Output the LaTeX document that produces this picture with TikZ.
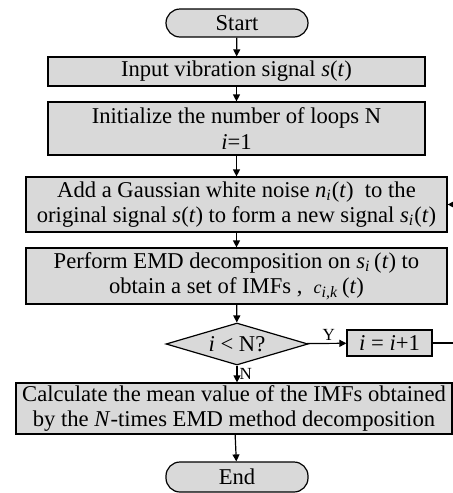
\documentclass[tikz,border=0pt]{standalone}
\usepackage{fontspec}
\setmainfont{Liberation Serif}
\usetikzlibrary{shapes.geometric,arrows.meta}
\definecolor{boxgray}{RGB}{217,217,217}
\newcommand{\vi}[1]{\textit{#1}}
\newcommand{\lowi}[1]{\textsubscript{\textit{#1}}}
\begin{document}
\begin{tikzpicture}[x=0.5pt,y=-0.5pt,line width=0.6pt,
  box/.style={draw,fill=boxgray,inner sep=0pt,align=center,font=\fontsize{11.3}{12.8}\selectfont},
  term/.style={box,rounded corners=7pt},
  ask/.style={box,diamond,shape aspect=3.4},
  flow/.style={-{Triangle[length=3.5pt,width=3.5pt]}},
  tag/.style={font=\fontsize{8.5}{9}\selectfont,inner sep=1pt}]
\useasboundingbox (0,0) rectangle (453,493);
\node[term,minimum width=71pt,minimum height=14pt] (start) at (237,23) {Start};
\node[box,minimum width=188.5pt,minimum height=14.5pt] (input) at (236.5,71.5) {Input vibration signal \vi{s}(\vi{t})};
\node[box,minimum width=188.5pt,minimum height=26.5pt] (init) at (236.5,128.5) {Initialize the number of loops N\\ \vi{i}=1};
\node[box,minimum width=210.5pt,minimum height=27.5pt] (add) at (236.5,204.5) {Add a Gaussian white noise \vi{n}\lowi{i}(\vi{t})\ \ to the\\ original signal \vi{s}(\vi{t}) to form a new signal \vi{s}\lowi{i}(\vi{t})};
\node[box,minimum width=210.5pt,minimum height=28pt] (emd) at (236.5,276) {Perform EMD decomposition on \vi{s}\lowi{i}\,(\vi{t}) to\\ obtain a set of IMFs ,\ \ {\small\vi{c}}\lowi{i,k}\,(\vi{t})};
\node[ask,minimum width=71pt,minimum height=21pt] (check) at (237,344) {\vi{i} {\textless} N?};
\node[box,minimum width=42.5pt,minimum height=13pt] (inc) at (389.5,343) {\vi{i} = \vi{i}+1};
\node[box,minimum width=218pt,minimum height=25.5pt] (mean) at (234,408.5) {Calculate the mean value of the IMFs obtained\\ by the \vi{N}-times EMD method decomposition};
\node[term,minimum width=71pt,minimum height=15pt] (stop) at (237,477) {End};
\coordinate (back) at (456,343);
\draw[flow] (start) -- (input);
\draw[flow] (input) -- (init);
\draw[flow] (init) -- (add);
\draw[flow] (add) -- (emd);
\draw[flow] (emd) -- (check);
\draw[flow] (check) -- node[tag,above,pos=0.55] (yes) {Y} (inc);
\draw[flow] (inc) -- (back) |- (add);
\draw[flow] (check.south) -- node[tag,right,pos=0.5] (no) {N} (check.south |- mean.north);
\draw[flow] (mean) -- (stop);
\end{tikzpicture}
\end{document}
